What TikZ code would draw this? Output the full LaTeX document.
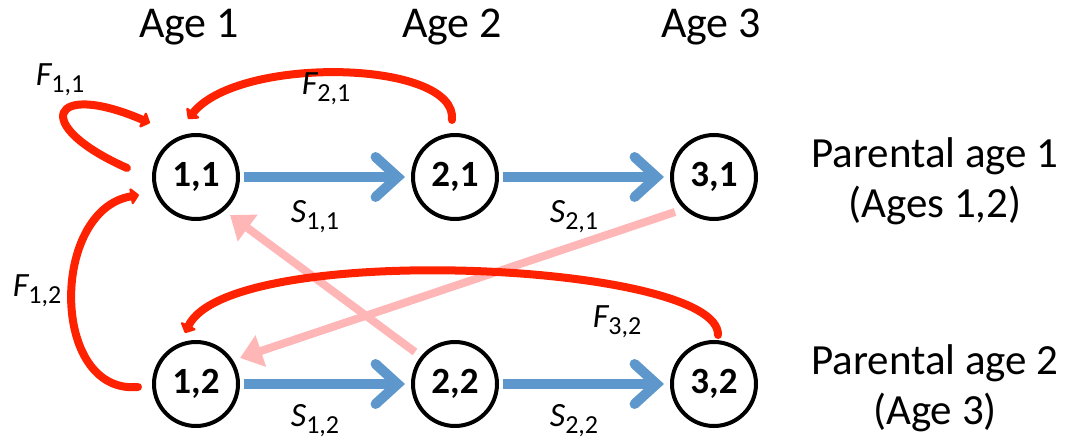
\documentclass[tikz,border=0pt]{standalone}
\usepackage{fontspec}
\setmainfont{Carlito}
\usetikzlibrary{arrows.meta,calc}
\definecolor{sblue}{RGB}{94,151,203}
\definecolor{fred}{RGB}{255,34,0}
\definecolor{fpink}{RGB}{255,182,182}
\newcommand{\sub}[1]{\raisebox{-7pt}{\fontsize{26}{26}\selectfont\upshape #1}}
\begin{document}
\begin{tikzpicture}[x=1pt,y=-1pt,
  stage/.style={circle,draw,line width=4pt,minimum size=84pt,inner sep=0pt,font=\fontsize{37}{37}\selectfont\bfseries},
  surv/.style={draw=sblue,line width=10pt,-{Straight Barb[length=22pt,width=40pt,line cap=round]},shorten <=4pt,shorten >=6pt},
  fert/.style={draw=fred,line width=8pt,line cap=round,-{Triangle[length=9pt,width=19pt,round]}},
  back/.style={draw=fpink,line width=8pt,-{Triangle[length=22pt,width=32pt]}},
  head/.style={font=\fontsize{44}{44}\selectfont},
  side/.style={font=\fontsize{43}{50}\selectfont,align=center},
  lab/.style={font=\fontsize{34}{34}\selectfont\itshape}]
\useasboundingbox (0,0) rectangle (1069,444);
\node[head] (a1) at (189,27) {Age 1};
\node[head] (a2) at (452,27) {Age 2};
\node[head] (a3) at (711,27) {Age 3};
\node[side] (p1) at (935,181) {Parental age 1\\(Ages 1,2)};
\node[side] (p2) at (935,388) {Parental age 2\\(Age 3)};
\node[stage] (n11) at (196,177) {1,1};
\node[stage] (n21) at (455,177) {2,1};
\node[stage] (n31) at (714,177) {3,1};
\node[stage] (n12) at (196,384) {1,2};
\node[stage] (n22) at (455,384) {2,2};
\node[stage] (n32) at (714,384) {3,2};
% pink back arrows
\draw[back] ($(n22)+(-40,-32)$) -- ($(n11)+(34,38)$);
\draw[back] ($(n31)+(-39,35)$) -- ($(n12)+(44,-26)$);
% survival
\draw[surv] (n11) -- (n21);
\draw[surv] (n21) -- (n31);
\draw[surv] (n12) -- (n22);
\draw[surv] (n22) -- (n32);
% fertility
\draw[fert] ($(n11)+(-69,-9)$) .. controls (30,125) and (50,80) .. ($(n11)+(-46,-54)$);
\draw[fert] ($(n21)+(-3,-57)$) .. controls (458,60) and (240,55) .. ($(n11)+(-8,-58)$);
\draw[fert] ($(n12)+(-58,3)$) .. controls (50,395) and (50,210) .. ($(n11)+(-57,18)$);
\draw[fert] ($(n32)+(4,-49)$) .. controls (720,262) and (230,240) .. ($(n12)+(-11,-51)$);
% labels
\node[lab] (f11) at (60,80) {F\sub{1,1}};
\node[lab] (f21) at (326,89) {F\sub{2,1}};
\node[lab] (f12) at (37,291) {F\sub{1,2}};
\node[lab] (f32) at (617,322) {F\sub{3,2}};
\node[lab] (s11) at (315,217) {S\sub{1,1}};
\node[lab] (s21) at (574,217) {S\sub{2,1}};
\node[lab] (s12) at (315,421) {S\sub{1,2}};
\node[lab] (s22) at (574,421) {S\sub{2,2}};
\end{tikzpicture}
\end{document}
